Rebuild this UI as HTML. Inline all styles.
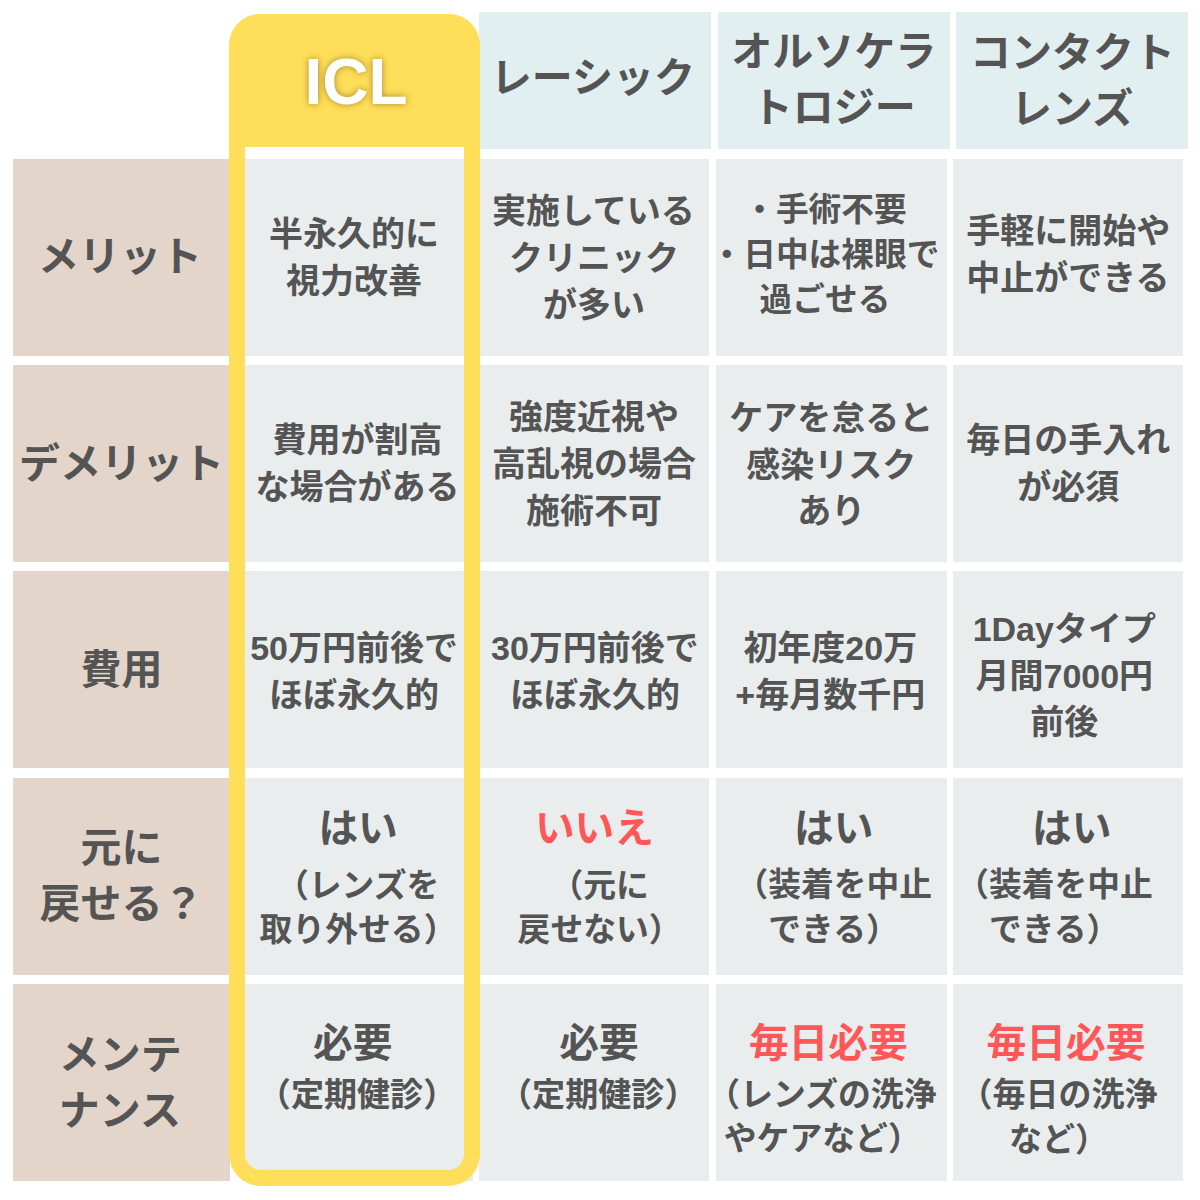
<!DOCTYPE html>
<html lang="ja"><head><meta charset="utf-8"><title>ICL・レーシック・オルソケラトロジー・コンタクトレンズ 比較表</title>
<style>
html,body{margin:0;padding:0;background:#fff}
body{width:1200px;height:1200px;position:relative;overflow:hidden;font-family:"Liberation Sans","Noto Sans CJK JP",sans-serif}
.page{position:absolute;left:0;top:0;width:1200px;height:1200px;background:#fff;overflow:hidden}
.cell{position:absolute;overflow:hidden}
.cell svg{position:absolute;left:0;top:0;display:block}
.cell svg text{font-family:"Liberation Sans","Noto Sans CJK JP",sans-serif;font-weight:bold}
.sr{position:absolute;width:1px;height:1px;margin:-1px;padding:0;overflow:hidden;clip:rect(0 0 0 0);clip-path:inset(50%);white-space:nowrap;border:0;font-size:1px;color:transparent}
.iclhead{overflow:visible}
.frame{position:absolute;left:229px;top:14px;width:251px;height:1171.75px;box-sizing:border-box;border:16px solid #ffde59;border-top-width:133px;border-radius:31px 31px 32px 32px / 31px 31px 32px 32px}
</style></head>
<body>
<div class="page">
<div class="cell hdr" style="left:479.25px;top:11.9px;width:231.75px;height:137.0px;background:#e1eff0"><span class="sr">レーシック</span><svg width="231.75" height="137.0" aria-hidden="true"><text x="11.75" y="80.40" font-size="41" fill="#545454">レーシック</text></svg></div>
<div class="cell hdr" style="left:718px;top:11.9px;width:232px;height:137.0px;background:#e1eff0"><span class="sr">オルソケラ<br>トロジー</span><svg width="232" height="137.0" aria-hidden="true"><text x="13.30" y="54.40" font-size="41" fill="#545454">オルソケラ</text><text x="33.80" y="110.40" font-size="41" fill="#545454">トロジー</text></svg></div>
<div class="cell hdr" style="left:956px;top:11.9px;width:232.2px;height:137.0px;background:#e1eff0"><span class="sr">コンタクト<br>レンズ</span><svg width="232.2" height="137.0" aria-hidden="true"><text x="14.00" y="55.10" font-size="41" fill="#545454">コンタクト</text><text x="55.00" y="110.90" font-size="41" fill="#545454">レンズ</text></svg></div>
<div class="cell rowhead" style="left:13px;top:158.8px;width:217px;height:197.05px;background:#e3d5ca"><span class="sr">メリット</span><svg width="217" height="197.05" aria-hidden="true"><text x="25.00" y="112.20" font-size="41" fill="#545454">メリット</text></svg></div>
<div class="cell rowhead" style="left:13px;top:365.0px;width:217px;height:197.05px;background:#e3d5ca"><span class="sr">デメリット</span><svg width="217" height="197.05" aria-hidden="true"><text x="6.00" y="113.00" font-size="41" fill="#545454">デメリット</text></svg></div>
<div class="cell rowhead" style="left:13px;top:571.3px;width:217px;height:197.05px;background:#e3d5ca"><span class="sr">費用</span><svg width="217" height="197.05" aria-hidden="true"><text x="67.50" y="112.70" font-size="41" fill="#545454">費用</text></svg></div>
<div class="cell rowhead" style="left:13px;top:777.5px;width:217px;height:197.05px;background:#e3d5ca"><span class="sr">元に<br>戻せる？</span><svg width="217" height="197.05" aria-hidden="true"><text x="67.50" y="84.10" font-size="41" fill="#545454">元に</text><text x="26.50" y="140.30" font-size="41" fill="#545454">戻せる？</text></svg></div>
<div class="cell rowhead" style="left:13px;top:983.75px;width:217px;height:197.05px;background:#e3d5ca"><span class="sr">メンテ<br>ナンス</span><svg width="217" height="197.05" aria-hidden="true"><text x="45.80" y="85.25" font-size="41" fill="#545454">メンテ</text><text x="45.80" y="141.05" font-size="41" fill="#545454">ナンス</text></svg></div>
<div class="cell data" style="left:242.3px;top:158.8px;width:230.4px;height:197.05px;background:#e9edee"><span class="sr">半永久的に<br>視力改善</span><svg width="230.4" height="197.05" aria-hidden="true"><text x="27.10" y="87.20" font-size="34" fill="#545454">半永久的に</text><text x="44.10" y="134.00" font-size="34" fill="#545454">視力改善</text></svg></div>
<div class="cell data" style="left:479.1px;top:158.8px;width:229.9px;height:197.05px;background:#e9edee"><span class="sr">実施している<br>クリニック<br>が多い</span><svg width="229.9" height="197.05" aria-hidden="true"><text x="12.90" y="64.40" font-size="34" fill="#545454">実施している</text><text x="29.90" y="111.30" font-size="34" fill="#545454">クリニック</text><text x="63.90" y="158.20" font-size="34" fill="#545454">が多い</text></svg></div>
<div class="cell data" style="left:716.2px;top:158.8px;width:230.55px;height:197.05px;background:#e9edee"><span class="sr">・手術不要<br>・日中は裸眼で<br>過ごせる</span><svg width="230.55" height="197.05" aria-hidden="true"><text x="27.25" y="62.40" font-size="32.7" fill="#545454">・手術不要</text><text x="-5.45" y="107.20" font-size="32.7" fill="#545454">・日中は裸眼で</text><text x="43.60" y="152.00" font-size="32.7" fill="#545454">過ごせる</text></svg></div>
<div class="cell data" style="left:952.7px;top:158.8px;width:230.3px;height:197.05px;background:#e9edee"><span class="sr">手軽に開始や<br>中止ができる</span><svg width="230.3" height="197.05" aria-hidden="true"><text x="13.30" y="84.20" font-size="34" fill="#545454">手軽に開始や</text><text x="13.30" y="130.60" font-size="34" fill="#545454">中止ができる</text></svg></div>
<div class="cell data" style="left:242.3px;top:365.0px;width:230.4px;height:197.05px;background:#e9edee"><span class="sr">費用が割高<br>な場合がある</span><svg width="230.4" height="197.05" aria-hidden="true"><text x="30.60" y="87.00" font-size="34" fill="#545454">費用が割高</text><text x="13.60" y="133.80" font-size="34" fill="#545454">な場合がある</text></svg></div>
<div class="cell data" style="left:479.1px;top:365.0px;width:229.9px;height:197.05px;background:#e9edee"><span class="sr">強度近視や<br>高乱視の場合<br>施術不可</span><svg width="229.9" height="197.05" aria-hidden="true"><text x="29.90" y="63.70" font-size="34" fill="#545454">強度近視や</text><text x="12.90" y="110.80" font-size="34" fill="#545454">高乱視の場合</text><text x="46.90" y="157.90" font-size="34" fill="#545454">施術不可</text></svg></div>
<div class="cell data" style="left:716.2px;top:365.0px;width:230.55px;height:197.05px;background:#e9edee"><span class="sr">ケアを怠ると<br>感染リスク<br>あり</span><svg width="230.55" height="197.05" aria-hidden="true"><text x="13.30" y="65.00" font-size="34" fill="#545454">ケアを怠ると</text><text x="30.30" y="111.50" font-size="34" fill="#545454">感染リスク</text><text x="81.30" y="158.00" font-size="34" fill="#545454">あり</text></svg></div>
<div class="cell data" style="left:952.7px;top:365.0px;width:230.3px;height:197.05px;background:#e9edee"><span class="sr">毎日の手入れ<br>が必須</span><svg width="230.3" height="197.05" aria-hidden="true"><text x="13.30" y="87.00" font-size="34" fill="#545454">毎日の手入れ</text><text x="64.30" y="133.80" font-size="34" fill="#545454">が必須</text></svg></div>
<div class="cell data" style="left:242.3px;top:571.3px;width:230.4px;height:197.05px;background:#e9edee"><span class="sr">50万円前後で<br>ほぼ永久的</span><svg width="230.4" height="197.05" aria-hidden="true"><text x="112.1" y="88.70" font-size="34" fill="#545454" text-anchor="middle">50万円前後で</text><text x="27.10" y="135.50" font-size="34" fill="#545454">ほぼ永久的</text></svg></div>
<div class="cell data" style="left:479.1px;top:571.3px;width:229.9px;height:197.05px;background:#e9edee"><span class="sr">30万円前後で<br>ほぼ永久的</span><svg width="229.9" height="197.05" aria-hidden="true"><text x="115.9" y="88.70" font-size="34" fill="#545454" text-anchor="middle">30万円前後で</text><text x="30.90" y="135.50" font-size="34" fill="#545454">ほぼ永久的</text></svg></div>
<div class="cell data" style="left:716.2px;top:571.3px;width:230.55px;height:197.05px;background:#e9edee"><span class="sr">初年度20万<br>+毎月数千円</span><svg width="230.55" height="197.05" aria-hidden="true"><text x="114.3" y="88.70" font-size="34" fill="#545454" text-anchor="middle">初年度20万</text><text x="114.3" y="135.50" font-size="34" fill="#545454" text-anchor="middle">+毎月数千円</text></svg></div>
<div class="cell data" style="left:952.7px;top:571.3px;width:230.3px;height:197.05px;background:#e9edee"><span class="sr">1Dayタイプ<br>月間7000円<br>前後</span><svg width="230.3" height="197.05" aria-hidden="true"><text x="111.3" y="69.70" font-size="34" fill="#545454" text-anchor="middle">1Dayタイプ</text><text x="111.3" y="116.50" font-size="34" fill="#545454" text-anchor="middle">月間7000円</text><text x="77.30" y="163.30" font-size="34" fill="#545454">前後</text></svg></div>
<div class="cell data" style="left:242.3px;top:777.5px;width:230.4px;height:197.05px;background:#e9edee"><span class="sr">はい<br>（レンズを<br>取り外せる）</span><svg width="230.4" height="197.05" aria-hidden="true"><text x="76.40" y="63.90" font-size="39.7" fill="#545454">はい</text><text x="33.97" y="118.50" font-size="32.85" fill="#545454">（レンズを</text><text x="17.55" y="162.90" font-size="32.85" fill="#545454">取り外せる）</text></svg></div>
<div class="cell data" style="left:479.1px;top:777.5px;width:229.9px;height:197.05px;background:#e9edee"><span class="sr">いいえ<br>（元に<br>戻せない）</span><svg width="229.9" height="197.05" aria-hidden="true"><text x="55.95" y="63.50" font-size="39.7" fill="#ff5757">いいえ</text><text x="71.42" y="118.50" font-size="32.85" fill="#545454">（元に</text><text x="38.57" y="162.90" font-size="32.85" fill="#545454">戻せない）</text></svg></div>
<div class="cell data" style="left:716.2px;top:777.5px;width:230.55px;height:197.05px;background:#e9edee"><span class="sr">はい<br>（装着を中止<br>できる）</span><svg width="230.55" height="197.05" aria-hidden="true"><text x="78.10" y="63.90" font-size="39.7" fill="#545454">はい</text><text x="19.55" y="118.00" font-size="32.75" fill="#545454">（装着を中止</text><text x="52.30" y="162.60" font-size="32.75" fill="#545454">できる）</text></svg></div>
<div class="cell data" style="left:952.7px;top:777.5px;width:230.3px;height:197.05px;background:#e9edee"><span class="sr">はい<br>（装着を中止<br>できる）</span><svg width="230.3" height="197.05" aria-hidden="true"><text x="79.10" y="64.00" font-size="39.7" fill="#545454">はい</text><text x="3.25" y="118.00" font-size="32.75" fill="#545454">（装着を中止</text><text x="36.00" y="162.60" font-size="32.75" fill="#545454">できる）</text></svg></div>
<div class="cell data" style="left:242.3px;top:983.75px;width:230.4px;height:197.05px;background:#e9edee"><span class="sr">必要<br>（定期健診）</span><svg width="230.4" height="197.05" aria-hidden="true"><text x="71.10" y="73.15" font-size="39.7" fill="#545454">必要</text><text x="15.80" y="121.75" font-size="33.1" fill="#545454">（定期健診）</text></svg></div>
<div class="cell data" style="left:479.1px;top:983.75px;width:229.9px;height:197.05px;background:#e9edee"><span class="sr">必要<br>（定期健診）</span><svg width="229.9" height="197.05" aria-hidden="true"><text x="80.30" y="73.15" font-size="39.7" fill="#545454">必要</text><text x="20.00" y="121.75" font-size="33.1" fill="#545454">（定期健診）</text></svg></div>
<div class="cell data" style="left:716.2px;top:983.75px;width:230.55px;height:197.05px;background:#e9edee"><span class="sr">毎日必要<br>（レンズの洗浄<br>やケアなど）</span><svg width="230.55" height="197.05" aria-hidden="true"><text x="32.90" y="73.05" font-size="39.7" fill="#ff5757">毎日必要</text><text x="-8.68" y="121.85" font-size="32.85" fill="#545454">（レンズの洗浄</text><text x="7.75" y="166.35" font-size="32.85" fill="#545454">やケアなど）</text></svg></div>
<div class="cell data" style="left:952.7px;top:983.75px;width:230.3px;height:197.05px;background:#e9edee"><span class="sr">毎日必要<br>（毎日の洗浄<br>など）</span><svg width="230.3" height="197.05" aria-hidden="true"><text x="33.60" y="73.05" font-size="39.7" fill="#ff5757">毎日必要</text><text x="6.50" y="122.35" font-size="33" fill="#545454">（毎日の洗浄</text><text x="56.00" y="167.25" font-size="33" fill="#545454">など）</text></svg></div>
<div class="frame"></div>
<div class="cell iclhead" style="left:229px;top:14px;width:251px;height:133px"><span class="sr">ICL</span><svg width="251" height="133" aria-hidden="true" style="overflow:visible"><defs><filter id="glow" x="-30%" y="-40%" width="160%" height="180%"><feGaussianBlur in="SourceAlpha" stdDeviation="3.5"/><feOffset dx="0.4" dy="0.4" result="b"/><feFlood flood-color="#6b4e00" flood-opacity="0.6"/><feComposite in2="b" operator="in"/></filter></defs><g filter="url(#glow)" fill="#000"><text x="127" y="90.30" font-size="64" text-anchor="middle">ICL</text></g><g fill="#fff"><text x="127" y="90.30" font-size="64" text-anchor="middle">ICL</text></g></svg></div>
</div>
</body></html>
